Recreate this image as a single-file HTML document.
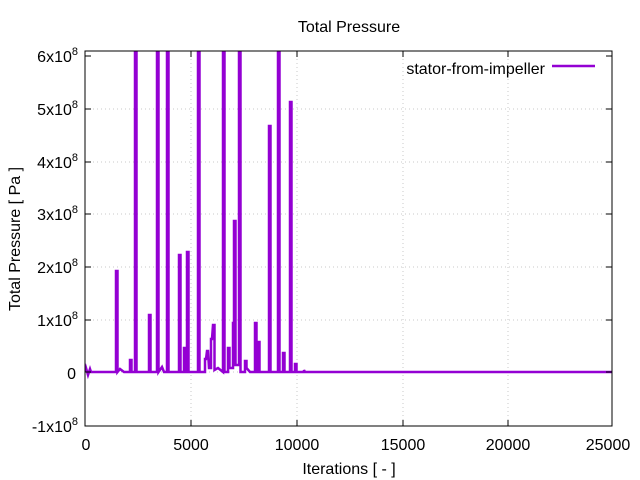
<!DOCTYPE html><html><head><style>body{margin:0;background:#fff}svg{display:block}text{font-family:"Liberation Sans",sans-serif;fill:#000}</style></head><body>
<svg width="640" height="480" viewBox="0 0 640 480">
<g stroke="#c8c8c8" stroke-dasharray="1,3" stroke-width="1">
<path d="M85 109H612M85 162H612M85 214H612M85 267H612M85 320H612M85 372H612"/>
<path d="M191 51V426M297 51V426M403 51V426M508 51V426"/>
</g>
<text x="349" y="32" font-size="16" text-anchor="middle">Total Pressure</text>
<g font-size="16" text-anchor="end">
<text x="78" y="62">6x10<tspan dy="-7" font-size="11">8</tspan></text>
<text x="78" y="115">5x10<tspan dy="-7" font-size="11">8</tspan></text>
<text x="78" y="168">4x10<tspan dy="-7" font-size="11">8</tspan></text>
<text x="78" y="220">3x10<tspan dy="-7" font-size="11">8</tspan></text>
<text x="78" y="273">2x10<tspan dy="-7" font-size="11">8</tspan></text>
<text x="78" y="326">1x10<tspan dy="-7" font-size="11">8</tspan></text>
<text x="76" y="379">0</text>
<text x="78" y="432">-1x10<tspan dy="-7" font-size="11">8</tspan></text>
</g>
<g font-size="16" text-anchor="middle">
<text x="86" y="450">0</text><text x="191" y="450">5000</text><text x="297" y="450">10000</text><text x="403" y="450">15000</text><text x="508" y="450">20000</text><text x="608" y="450">25000</text>
<text x="349" y="474">Iterations [ - ]</text>
</g>
<text transform="translate(20,239) rotate(-90)" font-size="16" text-anchor="middle">Total Pressure [ Pa ]</text>
<text x="545" y="74" font-size="16" text-anchor="end">stator-from-impeller</text>
<line x1="552" y1="66" x2="595" y2="66" stroke="#9400d3" stroke-width="2.5"/>
<svg x="85" y="51" width="527" height="375" viewBox="85 51 527 375" overflow="hidden">
<path fill="none" stroke="#9400d3" stroke-width="2.5" stroke-linejoin="miter" d="M85,372 L86,368 L88,375 L90,369 L91,372 L116,372 L116,271 L117.5,271 L117.5,372 L120,369 L124,372 L130,372 L130,360 L131.5,360 L131.5,372 L135,372 L135,40 L136.5,40 L136.5,372 L149,372 L149,315 L150.5,315 L150.5,372 L157,372 L157,40 L158.5,40 L158.5,372 L162,367 L164,372 L167,372 L167,40 L168.5,40 L168.5,372 L179,372 L179,255 L180.5,255 L180.5,372 L184,372 L184,348 L185.5,348 L185.5,372 L187,372 L187,252 L188.5,252 L188.5,372 L198,372 L198,40 L199.5,40 L199.5,372 L205,372 L205,359 L206,359 L207,351 L208,351 L209,368 L211,368 L211,339 L212,339 L213,325 L214.5,325 L214.5,370 L218,368 L223,372 L223,40 L224.5,40 L224.5,372 L228,372 L228,348 L229.5,348 L229.5,368 L233,368 L233,323 L234,323 L234,221 L235.5,221 L235.5,365 L239,365 L239,40 L240.5,40 L240.5,372 L245,372 L245,361 L246.5,361 L246.5,368 L250,372 L255,372 L255,323 L256.5,323 L256.5,372 L258,372 L258,342 L259.5,342 L259.5,372 L269,372 L269,126 L270.5,126 L270.5,372 L278,372 L278,40 L279.5,40 L279.5,372 L283,372 L283,353 L284.5,353 L284.5,372 L290,372 L290,102 L291.5,102 L291.5,372 L295,372 L295,364 L296.5,364 L296.5,372 L304,372 L304,370 L305,372 L612,372"/>
</svg>
<rect x="85" y="51" width="527" height="375" fill="none" stroke="#000" stroke-width="1"/>
<g stroke="#000" stroke-width="1">
<path d="M85 56h6M85 109h6M85 162h6M85 214h6M85 267h6M85 320h6M85 372h6M85 426h6M612 56h-6M612 109h-6M612 162h-6M612 214h-6M612 267h-6M612 320h-6M612 372h-6"/>
<path d="M191 426v-6M297 426v-6M403 426v-6M508 426v-6M191 51v6M297 51v6M403 51v6M508 51v6"/>
</g>
</svg></body></html>
